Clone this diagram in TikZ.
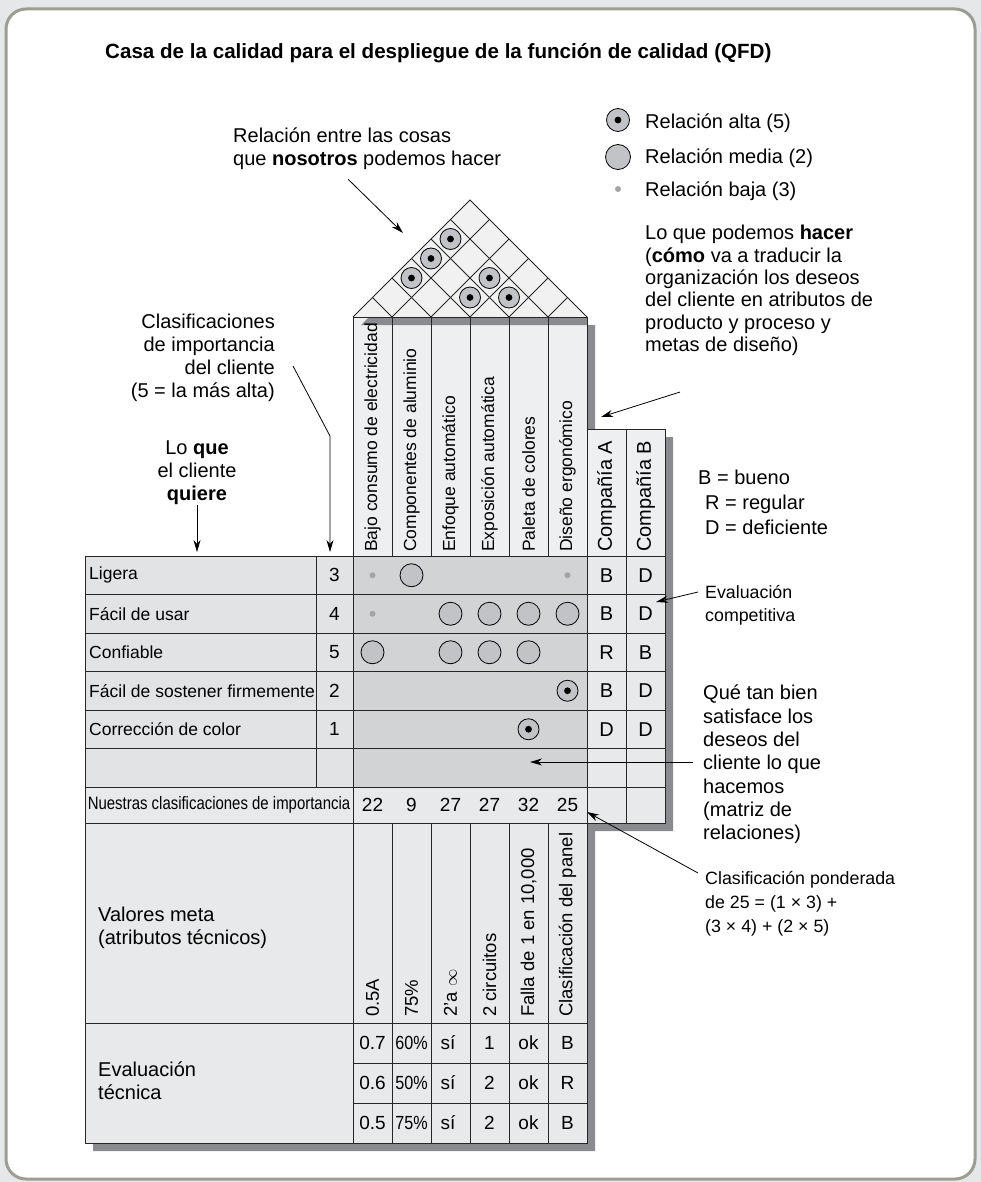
\documentclass[tikz,border=0pt]{standalone}
\usepackage{fontspec}
\setmainfont{Liberation Sans}
\usepackage{graphicx}
\usetikzlibrary{positioning,arrows.meta}

\definecolor{frameline}{HTML}{9C9D93}
\definecolor{pagegray}{HTML}{E6E7E8}
\definecolor{shadegray}{HTML}{8A8B8E}
\definecolor{wantgray}{HTML}{E2E3E5}
\definecolor{matgray}{HTML}{D2D3D5}
\definecolor{headgray}{HTML}{EEEFF0}
\definecolor{compgray}{HTML}{E8E9EA}
\definecolor{roofgray}{HTML}{F1F1F2}
\definecolor{relgray}{HTML}{C2C3C6}
\definecolor{lowgray}{HTML}{A3A4A7}

\begin{document}
\begin{tikzpicture}[
  x=1pt, y=-1pt,
  cellline/.style={draw=black!85, line width=0.9pt},
  celltxt/.style={inner sep=0pt, font=\fontsize{19}{22}\selectfont},
  wanttxt/.style={inner sep=0pt, anchor=west, font=\fontsize{17.5}{20}\selectfont},
  coltxt/.style={rotate=90, anchor=west, inner sep=0pt, font=\fontsize{17.5}{20}\selectfont},
  goaltxt/.style={coltxt, font=\fontsize{18.5}{21}\selectfont},
  comptxt/.style={coltxt, font=\fontsize{20}{23}\selectfont},
  note/.style={inner sep=0pt, align=left, font=\fontsize{20}{23}\selectfont},
  smallnote/.style={inner sep=0pt, align=left, font=\fontsize{17.8}{23}\selectfont},
  hirel/.style={circle, draw, line width=0.8pt, fill=relgray, minimum size=21pt, inner sep=0pt,
    path picture={\fill[black] (path picture bounding box.center) circle (3.4pt);}},
  medrel/.style={circle, draw, line width=0.8pt, fill=relgray, minimum size=23pt, inner sep=0pt},
  lowrel/.style={circle, fill=lowgray, minimum size=6pt, inner sep=0pt},
  pointer/.style={-{Stealth[length=12pt,width=7pt]}, line width=0.8pt}
]

% Page and frame
\fill[pagegray] (0,0) rectangle (981,1182);
\useasboundingbox (0,0) rectangle (981,1182);
\draw[frameline, line width=3pt, fill=white, rounded corners=20pt] (6,9) rectangle (975,1179);

% Title
\node[anchor=base west, inner sep=0pt, font=\fontsize{20.6}{24}\selectfont\bfseries] (title) at (105,59)
  {Casa de la calidad para el despliegue de la función de calidad (QFD)};

% Shadow of the house
\fill[shadegray] (93,564) -- (361,564) -- (361,325) -- (595,325) -- (595,437) -- (673,437)
  -- (673,831) -- (595,831) -- (595,1151) -- (93,1151) -- cycle;

% Roof
\fill[roofgray] (353,317) -- (470,200) -- (587,317) -- cycle;
\foreach \k in {1,...,5}{
  \draw[cellline] ({353+39*\k},317) -- ++({-19.5*\k},{-19.5*\k});
  \draw[cellline] ({353+39*\k},317) -- ++({19.5*(6-\k)},{-19.5*(6-\k)});
}
\draw[cellline] (353,317) -- (470,200) -- (587,317);
\foreach \i/\j in {1/3,1/4,1/5,3/4,3/5,4/5}
  \node[hirel] (roof\i\j) at ({333.5+19.5*(\i+\j)},{317-19.5*(\j-\i)}) {};

% Column headers
\fill[headgray] (353,317) rectangle (587,556);
\fill[shadegray] (369,317) -- (361,325) -- (587,325) -- (587,317) -- cycle;
\foreach \k/\t in {0/Bajo consumo de electricidad, 1/Componentes de aluminio, 2/Enfoque automático,
    3/Exposición automática, 4/Paleta de colores, 5/Diseño ergonómico}{
  \draw[cellline] ({353+39*\k},317) rectangle ({392+39*\k},556);
  \node[coltxt] (how\k) at ({372.5+39*\k},552) {\t};
}
\foreach \k/\t in {0/Compañía A, 1/Compañía B}{
  \draw[cellline, fill=headgray] ({587+39*\k},429) rectangle ({626+39*\k},556);
  \node[comptxt] (comp\k) at ({606.5+39*\k},552) {\t};
}

% Customer wants, importance, relationships, competitive evaluation
\foreach \r/\wt/\im/\ca/\cb in {0/Ligera/3/B/D, 1/Fácil de usar/4/B/D, 2/Confiable/5/R/B,
    3/Fácil de sostener firmemente/2/B/D, 4/Corrección de color/1/D/D, 5/{}/{}/{}/{}}{
  \draw[cellline, fill=wantgray] (85,{556+38.5*\r}) rectangle (316,{594.5+38.5*\r});
  \draw[cellline, fill=wantgray] (316,{556+38.5*\r}) rectangle (353,{594.5+38.5*\r});
  \draw[cellline, fill=matgray] (353,{556+38.5*\r}) rectangle (587,{594.5+38.5*\r});
  \draw[cellline, fill=compgray] (587,{556+38.5*\r}) rectangle (626,{594.5+38.5*\r});
  \draw[cellline, fill=compgray] (626,{556+38.5*\r}) rectangle (665,{594.5+38.5*\r});
  \node[wanttxt] (what\r) at (89,{575.25+38.5*\r}) {\wt};
  \node[celltxt] (imp\r) at (334.5,{575.25+38.5*\r}) {\im};
  \node[celltxt, font=\fontsize{20}{23}\selectfont] (compa\r) at (606.5,{575.25+38.5*\r}) {\ca};
  \node[celltxt, font=\fontsize{20}{23}\selectfont] (compb\r) at (645.5,{575.25+38.5*\r}) {\cb};
}
\foreach \c/\r/\s in {1/0/lowrel, 2/0/medrel, 6/0/lowrel, 1/1/lowrel, 3/1/medrel, 4/1/medrel,
    5/1/medrel, 6/1/medrel, 1/2/medrel, 3/2/medrel, 4/2/medrel, 5/2/medrel, 6/3/hirel, 5/4/hirel}
  \node[\s] (rel\r\c) at ({333.5+39*\c},{575.25+38.5*\r}) {};

% Our importance ratings
\draw[cellline, fill=compgray] (85,787) rectangle (353,823);
\node[celltxt, font=\fontsize{18}{21}\selectfont] (ourrank) at (219,805)
  {\scalebox{0.83}[1]{Nuestras clasificaciones de importancia}};
\draw[cellline, fill=compgray] (353,787) rectangle (587,823);
\foreach \k/\v in {0/22, 1/9, 2/27, 3/27, 4/32, 5/25}
  \node[celltxt] (score\k) at ({372.5+39*\k},805) {\v};
\draw[cellline, fill=compgray] (587,787) rectangle (626,823);
\draw[cellline, fill=compgray] (626,787) rectangle (665,823);

% Target values and technical evaluation
\draw[cellline, fill=compgray] (85,823) rectangle (353,1023);
\node[note, anchor=north west] (goalnote) at (98,907) {Valores meta\\(atributos técnicos)};
\draw[cellline, fill=compgray] (85,1023) rectangle (353,1143);
\node[note, anchor=north west] (technote) at (98,1062) {Evaluación\\técnica};
\foreach \k/\t in {0/0.5A, 1/75\%, 2/{2'a $\infty$}, 3/2 circuitos, 4/{Falla de 1 en 10,000},
    5/Clasificación del panel}{
  \draw[cellline, fill=compgray] ({353+39*\k},823) rectangle ({392+39*\k},1023);
  \node[goaltxt] (goal\k) at ({372.5+39*\k},1017) {\t};
}
\foreach \r/\va/\vb/\vc/\vd/\ve/\vf in {0/0.7/60/sí/1/ok/B, 1/0.6/50/sí/2/ok/R, 2/0.5/75/sí/2/ok/B}{
  \foreach \k in {0,...,5}
    \draw[cellline, fill=compgray] ({353+39*\k},{1023+40*\r}) rectangle ({392+39*\k},{1063+40*\r});
  \node[celltxt] (techa\r) at (372.5,{1043+40*\r}) {\va};
  \node[celltxt] (techb\r) at (411.5,{1043+40*\r}) {\scalebox{0.85}[1]{\vb\%}};
  \node[celltxt] (techc\r) at (448,{1043+40*\r}) {\vc};
  \node[celltxt] (techd\r) at (489.5,{1043+40*\r}) {\vd};
  \node[celltxt] (teche\r) at (528.5,{1043+40*\r}) {\ve};
  \node[celltxt] (techf\r) at (567.5,{1043+40*\r}) {\vf};
}

% Legend
\node[hirel, minimum size=23pt] (keyhi) at (618,120) {};
\node[medrel, minimum size=25pt] (keymed) at (618,157) {};
\node[lowrel] (keylow) at (618,189) {};
\node[note, anchor=base west] (keyhitxt) at (645,129) {Relación alta (5)};
\node[note, anchor=base west] (keymedtxt) at (645,164) {Relación media (2)};
\node[note, anchor=base west] (keylowtxt) at (645,197) {Relación baja (3)};

% Notes and pointers
\node[note, anchor=north west] (roofnote) at (233,128)
  {Relación entre las cosas\\que \textbf{nosotros} podemos hacer};
\coordinate (rooftip) at (403,233);
\draw[pointer] ([shift={(-19,9)}]roofnote.south) -- (rooftip);

\node[note, anchor=north west, font=\fontsize{20}{22.4}\selectfont] (hownote) at (645,225)
  {Lo que podemos \textbf{hacer}\\(\textbf{cómo} va a traducir la\\organización los deseos\\del cliente en atributos de\\producto y proceso y\\metas de diseño)};
\coordinate (howtip) at (601,417);
\draw[pointer] ([shift={(35,36)}]hownote.south west) -- (howtip);

\node[note, align=right, anchor=north east] (impnote) at (275,314)
  {Clasificaciones\\de importancia\\del cliente\\(5 = la más alta)};
\coordinate (imptip) at (330,552);
\draw[pointer] ([shift={(18,52)}]impnote.north east) -- ++(37,70) -- (imptip);

\node[note, align=center, anchor=north] (whatnote) at (197,441)
  {Lo \textbf{que}\\el cliente\\\textbf{quiere}};
\coordinate (whattip) at (197,552);
\draw[pointer] (whatnote.south) -- (whattip);

\node[note, anchor=north west, font=\fontsize{20}{25}\selectfont] (scalenote) at (698,470)
  {B = bueno\\\hspace*{7pt}R = regular\\\hspace*{7pt}D = deficiente};

\node[smallnote, anchor=north west] (compnote) at (705,585) {Evaluación\\competitiva};
\coordinate (comptip) at (656,602);
\draw[pointer] ([shift={(-7,7)}]compnote.north west) -- (comptip);

\node[note, anchor=north west, font=\fontsize{20}{23.3}\selectfont] (matnote) at (703,685)
  {Qué tan bien\\satisface los\\deseos del\\cliente lo que\\hacemos\\(matriz de\\relaciones)};
\coordinate (mattip) at (530,762);
\draw[pointer] ([shift={(-10,77)}]matnote.north west) -- (mattip);

\node[smallnote, anchor=north west, font=\fontsize{17.8}{24.3}\selectfont] (weightnote) at (705,871)
  {Clasificación ponderada\\de 25 = (1 × 3) +\\(3 × 4) + (2 × 5)};
\coordinate (weighttip) at (587,812);
\draw[pointer] ([shift={(-7,2)}]weightnote.north west) -- (weighttip);

\end{tikzpicture}
\end{document}
